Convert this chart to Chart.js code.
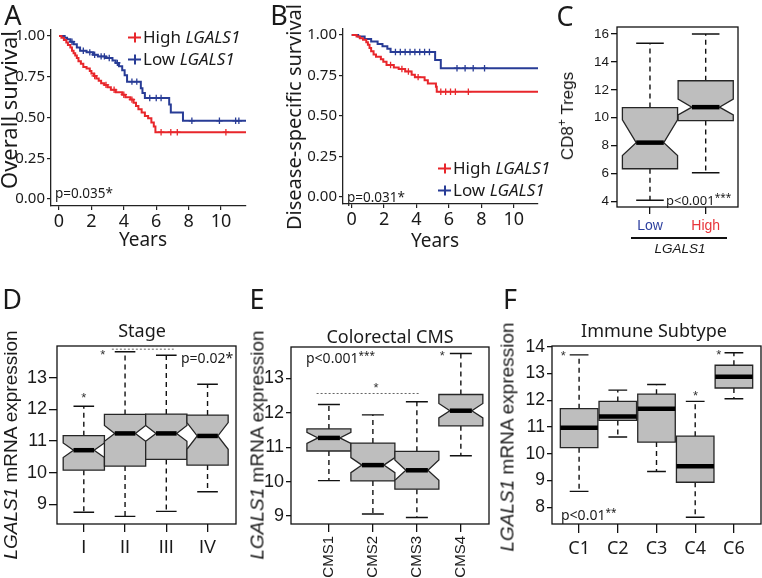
<!DOCTYPE html>
<html>
<head>
<meta charset="utf-8">
<script src="https://cdn.jsdelivr.net/npm/chart.js@4.4.1/dist/chart.umd.min.js"></script>
<style>
  html, body { margin: 0; padding: 0; background: #fff; }
  #fig { position: relative; width: 762px; height: 578px; overflow: hidden; font-family: "Noto Sans", sans-serif; color: #1a1a1a; }
  #fig canvas { position: absolute; }
  .t { position: absolute; white-space: nowrap; line-height: 1; }
</style>
</head>
<body>
<div id="fig"></div>
<script>
// ---- A: overall survival (years, survival) ----
const osHighT = [0, 0.15, 0.3, 0.45, 0.55, 0.7, 0.8, 0.9, 1.0, 1.1, 1.2, 1.35, 1.5, 1.7, 1.9, 2.0, 2.15, 2.3, 2.45, 2.6, 2.8, 3.0, 3.2, 3.5, 3.9, 4.1, 4.4, 4.6, 4.75, 4.9, 5.1, 5.3, 5.5, 5.7, 5.85, 5.95, 11.6];
const osHighS = [1, 0.99, 0.975, 0.96, 0.945, 0.93, 0.91, 0.895, 0.88, 0.865, 0.845, 0.83, 0.81, 0.8, 0.785, 0.77, 0.755, 0.74, 0.725, 0.71, 0.7, 0.685, 0.67, 0.655, 0.64, 0.625, 0.61, 0.59, 0.57, 0.55, 0.53, 0.51, 0.495, 0.47, 0.445, 0.41, 0.41];
const osLowT = [0, 0.35, 0.5, 0.7, 0.9, 1.1, 1.3, 1.7, 2.1, 2.4, 2.9, 3.3, 3.5, 3.7, 3.9, 4.05, 4.2, 5.05, 5.15, 5.3, 6.8, 6.9, 7.65, 11.6];
const osLowS = [1, 0.99, 0.98, 0.965, 0.95, 0.93, 0.91, 0.9, 0.885, 0.875, 0.865, 0.85, 0.835, 0.815, 0.79, 0.76, 0.72, 0.68, 0.65, 0.62, 0.58, 0.53, 0.48, 0.48];
const osHighCensT = [2.2, 2.9, 3.4, 4.0, 4.5, 6.3, 6.9, 7.3, 10.3];
const osHighCensS = [0.755, 0.7, 0.67, 0.64, 0.61, 0.41, 0.41, 0.41, 0.41];
const osLowCensT = [0.8, 1.5, 1.9, 2.2, 2.6, 2.8, 3.1, 3.6, 4.5, 4.8, 5.6, 6.0, 6.3, 8.2, 9.9, 10.9, 11.1];
const osLowCensS = [0.965, 0.91, 0.9, 0.885, 0.875, 0.875, 0.865, 0.835, 0.72, 0.72, 0.62, 0.62, 0.62, 0.48, 0.48, 0.48, 0.48];

// ---- B: disease-specific survival ----
const dssHighT = [0, 0.3, 0.5, 0.7, 0.9, 1.0, 1.1, 1.2, 1.35, 1.5, 1.8, 1.95, 2.15, 2.6, 2.9, 3.3, 3.7, 3.9, 4.5, 4.7, 5.2, 5.25, 11.6];
const dssHighS = [1, 0.99, 0.98, 0.97, 0.955, 0.94, 0.92, 0.9, 0.88, 0.865, 0.85, 0.835, 0.815, 0.8, 0.79, 0.775, 0.755, 0.74, 0.72, 0.7, 0.68, 0.65, 0.65];
const dssLowT = [0, 0.4, 0.8, 1.2, 1.6, 1.9, 2.2, 2.4, 5.15, 5.5, 11.6];
const dssLowS = [1, 0.99, 0.975, 0.96, 0.945, 0.93, 0.915, 0.895, 0.845, 0.795, 0.795];
const dssHighCensT = [2.4, 3.1, 3.5, 4.1, 5.5, 5.8, 6.1, 6.4, 7.2];
const dssHighCensS = [0.815, 0.79, 0.775, 0.74, 0.65, 0.65, 0.65, 0.65, 0.65];
const dssLowCensT = [2.7, 3.0, 3.3, 3.6, 3.9, 4.2, 4.5, 4.8, 6.5, 7.0, 7.5, 8.2];
const dssLowCensS = [0.895, 0.895, 0.895, 0.895, 0.895, 0.895, 0.895, 0.895, 0.795, 0.795, 0.795, 0.795];

const kmXTicks = [0, 2, 4, 6, 8, 10];
const kmYTicks = [0, 0.25, 0.5, 0.75, 1];

// ---- C: CD8+ Tregs by LGALS1 ----
const tregLabels = ['Low', 'High'];
const tregLo = [4.09, 6.06];
const tregQ1 = [6.35, 9.8];
const tregMed = [8.22, 10.76];
const tregQ3 = [10.73, 12.65];
const tregHi = [15.34, 16.0];
const tregNotchLo = [7.3, 10.2];
const tregNotchHi = [9.85, 11.34];
const tregYTicks = [4, 6, 8, 10, 12, 14, 16];

// ---- D: stage ----
const stageLabels = ['I', 'II', 'III', 'IV'];
const stageLo = [8.75, 8.62, 8.78, 9.4];
const stageQ1 = [10.08, 10.21, 10.42, 10.24];
const stageMed = [10.71, 11.24, 11.24, 11.16];
const stageQ3 = [11.17, 11.84, 11.85, 11.82];
const stageHi = [12.1, 13.82, 13.71, 12.79];
const stageNotchLo = [10.48, 10.99, 10.99, 10.74];
const stageNotchHi = [10.94, 11.49, 11.49, 11.58];
const stageYTicks = [9, 10, 11, 12, 13];
const stageStarX = [1, 1.46], stageStarY = [12.45, 13.8];
const stageDotX = [1.68, 3.18], stageDotY = 13.9;

// ---- E: colorectal CMS ----
const cmsLabels = ['CMS1', 'CMS2', 'CMS3', 'CMS4'];
const cmsLo = [10.03, 9.06, 8.96, 10.75];
const cmsQ1 = [10.89, 10.02, 9.78, 11.62];
const cmsMed = [11.27, 10.48, 10.33, 12.06];
const cmsQ3 = [11.53, 11.12, 10.88, 12.53];
const cmsHi = [12.24, 11.94, 12.32, 13.72];
const cmsNotchLo = [11.11, 10.26, 10.04, 11.85];
const cmsNotchHi = [11.43, 10.7, 10.63, 12.27];
const cmsYTicks = [9, 10, 11, 12, 13];
const cmsStarX = [2.07, 3.58], cmsStarY = [12.8, 13.72];
const cmsDotX = [0.72, 3.06], cmsDotY = 12.56;

// ---- F: immune subtype ----
const immLabels = ['C1', 'C2', 'C3', 'C4', 'C6'];
const immLo = [8.6, 10.63, 9.34, 7.63, 12.06];
const immQ1 = [10.23, 11.25, 10.44, 8.94, 12.46];
const immMed = [10.98, 11.4, 11.69, 9.54, 12.88];
const immQ3 = [11.69, 11.96, 12.23, 10.66, 13.31];
const immHi = [13.7, 12.38, 12.59, 11.96, 13.78];
const immYTicks = [8, 9, 10, 11, 12, 13, 14];
const immStarX = [0.59, 4.01, 4.61], immStarY = [13.76, 12.27, 13.78];

const RED = '#e8262b';
const BLUE = '#283c96';
const ARIAL = '"Liberation Sans", Arial, sans-serif';

Chart.defaults.font.family = '"Noto Sans", sans-serif';
Chart.defaults.color = '#1a1a1a';
Chart.defaults.animation = false;

const fig = document.getElementById('fig');

function txt(html, x, y, css, opts = {}) {
  const d = document.createElement('div');
  d.className = 't';
  d.innerHTML = html;
  d.style.cssText += css;
  d.style.left = x + 'px';
  d.style.top = y + 'px';
  const tx = opts.anchor === 'l' ? '0' : '-50%';
  d.style.transform = `translate(${tx},-50%)` + (opts.rot ? ` rotate(${opts.rot}deg)` : '');
  fig.appendChild(d);
}

function key(color) {
  return `<span style="display:inline-block;position:relative;width:13px;height:2px;background:${color};vertical-align:middle;margin-right:2px">` +
    `<span style="position:absolute;left:5.5px;top:-4px;width:2px;height:10px;background:${color}"></span></span>`;
}

function pairs(xs, ys) {
  return xs.map((x, i) => ({ x, y: ys[i] }));
}

// place a canvas so that its chart area lands on `area` (page pixels)
function makeCanvas(box) {
  const cv = document.createElement('canvas');
  cv.width = box.w; cv.height = box.h;
  cv.style.left = box.left + 'px'; cv.style.top = box.top + 'px';
  cv.style.width = box.w + 'px'; cv.style.height = box.h + 'px';
  fig.appendChild(cv);
  return cv;
}

function fixSize(size, isX) {
  return (s) => {
    if (isX) s.height = size; else s.width = size;
    s.paddingLeft = s.paddingRight = s.paddingTop = s.paddingBottom = 0;
  };
}

function setTicks(values) {
  return (s) => { s.ticks = values.map(v => ({ value: v })); };
}

function layoutFor(box, area) {
  return {
    autoPadding: false,
    padding: { top: area.t - box.top, right: box.left + box.w - area.r, left: 0, bottom: 0 }
  };
}

// ---------- Kaplan-Meier panels ----------
function kmChart(box, area, xr, yr, curves, tickFont) {
  const cv = makeCanvas(box);
  const datasets = [];
  curves.forEach(c => {
    datasets.push({
      data: pairs(c.t, c.s), borderColor: c.color, borderWidth: 2, stepped: true,
      pointRadius: 0, fill: false
    });
    datasets.push({
      data: pairs(c.ct, c.cs), showLine: false, pointStyle: 'cross', pointRadius: 3.2,
      pointBorderWidth: 1.3, borderColor: c.color, pointBorderColor: c.color
    });
  });
  return new Chart(cv, {
    type: 'line',
    data: { datasets },
    options: {
      responsive: false, devicePixelRatio: 1,
      layout: layoutFor(box, area),
      plugins: { legend: { display: false }, tooltip: { enabled: false } },
      scales: {
        x: {
          type: 'linear', min: xr[0], max: xr[1],
          afterBuildTicks: setTicks(kmXTicks),
          afterFit: fixSize(box.top + box.h - area.b, true),
          grid: { drawOnChartArea: false, tickLength: 4, color: '#222', lineWidth: 1.2 },
          border: { display: true, color: '#222', width: 1.3 },
          ticks: { font: { size: tickFont.x }, padding: 1, autoSkip: false, maxRotation: 0, color: '#1a1a1a' }
        },
        y: {
          type: 'linear', min: yr[0], max: yr[1],
          afterBuildTicks: setTicks(kmYTicks),
          afterFit: fixSize(area.l - box.left, false),
          grid: { drawOnChartArea: false, tickLength: 4, color: '#222', lineWidth: 1.2 },
          border: { display: true, color: '#222', width: 1.3 },
          ticks: { font: { size: tickFont.y }, padding: 2, callback: v => v.toFixed(2), color: '#1a1a1a' }
        }
      }
    }
  });
}

// ---------- box plot panels ----------
const framePlugin = {
  id: 'frame',
  afterDraw(chart) {
    const a = chart.chartArea, ctx = chart.ctx;
    ctx.save();
    ctx.strokeStyle = '#111';
    ctx.lineWidth = 1.3;
    ctx.strokeRect(a.left, a.top, a.right - a.left, a.bottom - a.top);
    ctx.restore();
  }
};

function boxPlugin(st) {
  return {
    id: 'boxes',
    beforeDatasetsDraw(chart) {
      const { ctx, chartArea: a, scales: { x, y } } = chart;
      const Y = v => y.getPixelForValue(v);
      ctx.save();
      ctx.beginPath();
      ctx.rect(a.left, a.top, a.right - a.left, a.bottom - a.top);
      ctx.clip();
      st.med.forEach((m, i) => {
        const pos = i + 1;
        const cx = x.getPixelForValue(pos);
        const hw = x.getPixelForValue(pos + st.half) - cx;
        const cw = x.getPixelForValue(pos + st.half / 2) - cx;
        // whiskers
        ctx.strokeStyle = '#111';
        ctx.lineWidth = 1.4;
        ctx.setLineDash([5, 4]);
        ctx.beginPath();
        ctx.moveTo(cx, Y(st.q3[i])); ctx.lineTo(cx, Y(st.hi[i]));
        ctx.moveTo(cx, Y(st.q1[i])); ctx.lineTo(cx, Y(st.lo[i]));
        ctx.stroke();
        ctx.setLineDash([]);
        ctx.beginPath();
        ctx.moveTo(cx - cw, Y(st.hi[i])); ctx.lineTo(cx + cw, Y(st.hi[i]));
        ctx.moveTo(cx - cw, Y(st.lo[i])); ctx.lineTo(cx + cw, Y(st.lo[i]));
        ctx.stroke();
        // box (notched when notch limits are given)
        const nf = st.nlo ? 0.5 : 1;
        ctx.beginPath();
        if (st.nlo) {
          ctx.moveTo(cx - hw, Y(st.q1[i]));
          ctx.lineTo(cx - hw, Y(st.nlo[i]));
          ctx.lineTo(cx - hw * nf, Y(m));
          ctx.lineTo(cx - hw, Y(st.nhi[i]));
          ctx.lineTo(cx - hw, Y(st.q3[i]));
          ctx.lineTo(cx + hw, Y(st.q3[i]));
          ctx.lineTo(cx + hw, Y(st.nhi[i]));
          ctx.lineTo(cx + hw * nf, Y(m));
          ctx.lineTo(cx + hw, Y(st.nlo[i]));
          ctx.lineTo(cx + hw, Y(st.q1[i]));
          ctx.closePath();
        } else {
          ctx.rect(cx - hw, Y(st.q3[i]), 2 * hw, Y(st.q1[i]) - Y(st.q3[i]));
        }
        ctx.fillStyle = '#bebebe';
        ctx.fill();
        ctx.lineWidth = 1.3;
        ctx.strokeStyle = '#262626';
        ctx.stroke();
        // median
        ctx.lineWidth = 4.5;
        ctx.strokeStyle = '#000';
        ctx.beginPath();
        ctx.moveTo(cx - hw * nf, Y(m)); ctx.lineTo(cx + hw * nf, Y(m));
        ctx.stroke();
      });
      ctx.restore();
    }
  };
}

function notesPlugin(n) {
  return {
    id: 'notes',
    afterDraw(chart) {
      const { ctx, scales: { x, y } } = chart;
      ctx.save();
      if (n.dotX) {
        ctx.strokeStyle = '#666';
        ctx.lineWidth = 1;
        ctx.setLineDash([2, 2]);
        ctx.beginPath();
        ctx.moveTo(x.getPixelForValue(n.dotX[0]), y.getPixelForValue(n.dotY));
        ctx.lineTo(x.getPixelForValue(n.dotX[1]), y.getPixelForValue(n.dotY));
        ctx.stroke();
        ctx.setLineDash([]);
      }
      ctx.fillStyle = '#333';
      ctx.font = '13px "Liberation Sans", Arial, sans-serif';
      ctx.textAlign = 'center';
      ctx.textBaseline = 'middle';
      (n.starX || []).forEach((sx, i) => {
        ctx.fillText('*', x.getPixelForValue(sx), y.getPixelForValue(n.starY[i]) + 3);
      });
      ctx.restore();
    }
  };
}

function boxChart(box, area, xr, yr, st, o) {
  const cv = makeCanvas(box);
  return new Chart(cv, {
    type: 'scatter',
    data: { datasets: [{ data: pairs(st.med.map((_, i) => i + 1), st.med), pointRadius: 0 }] },
    options: {
      responsive: false, devicePixelRatio: 1,
      layout: layoutFor(box, area),
      plugins: { legend: { display: false }, tooltip: { enabled: false } },
      scales: {
        x: {
          type: 'linear', min: xr[0], max: xr[1],
          afterBuildTicks: setTicks(st.labels.map((_, i) => i + 1)),
          afterFit: fixSize(box.top + box.h - area.b, true),
          grid: { drawOnChartArea: false, tickLength: o.xTick, color: '#111', lineWidth: 1.3 },
          border: { display: false },
          ticks: {
            autoSkip: false, padding: o.xPad, minRotation: o.rot || 0, maxRotation: o.rot || 0,
            font: o.xFont, color: o.xColor || '#1a1a1a',
            callback: v => st.labels[v - 1]
          }
        },
        y: {
          type: 'linear', min: yr[0], max: yr[1],
          afterBuildTicks: setTicks(o.yTicks),
          afterFit: fixSize(area.l - box.left, false),
          grid: { drawOnChartArea: false, tickLength: o.yTick, color: '#111', lineWidth: 1.3 },
          border: { display: false },
          ticks: { padding: 2, font: o.yFont, color: '#1a1a1a' }
        }
      }
    },
    plugins: [boxPlugin(st), framePlugin, notesPlugin(o.notes || {})]
  });
}

// ---------- A ----------
kmChart({ left: 0, top: 0, w: 258, h: 262 }, { l: 51, t: 30, r: 246, b: 206 },
  [-0.494, 11.54], [-0.043, 1.037],
  [
    { t: osHighT, s: osHighS, ct: osHighCensT, cs: osHighCensS, color: RED },
    { t: osLowT, s: osLowS, ct: osLowCensT, cs: osLowCensS, color: BLUE }
  ], { x: 18, y: 15 });

// ---------- B ----------
kmChart({ left: 262, top: 0, w: 285, h: 262 }, { l: 343, t: 29, r: 538, b: 204 },
  [-0.537, 11.5], [-0.043, 1.037],
  [
    { t: dssHighT, s: dssHighS, ct: dssHighCensT, cs: dssHighCensS, color: RED },
    { t: dssLowT, s: dssLowS, ct: dssLowCensT, cs: dssLowCensS, color: BLUE }
  ], { x: 18, y: 15 });

// ---------- C ----------
boxChart({ left: 560, top: 0, w: 202, h: 262 }, { l: 617, t: 27, r: 738, b: 207 },
  [0.408, 2.58], [3.61, 16.5],
  { labels: tregLabels, lo: tregLo, q1: tregQ1, med: tregMed, q3: tregQ3, hi: tregHi, nlo: tregNotchLo, nhi: tregNotchHi, half: 0.495 },
  { yTicks: tregYTicks, xTick: 7, yTick: 6, xPad: 4, xFont: { family: ARIAL, size: 14 }, yFont: { family: ARIAL, size: 13.5 },
    xColor: c => (c.index === 0 ? '#2c3f9e' : '#e8343a') });

// ---------- D ----------
boxChart({ left: 0, top: 280, w: 250, h: 298 }, { l: 57, t: 346, r: 236, b: 524 },
  [0.35, 4.69], [8.38, 14.0],
  { labels: stageLabels, lo: stageLo, q1: stageQ1, med: stageMed, q3: stageQ3, hi: stageHi, nlo: stageNotchLo, nhi: stageNotchHi, half: 0.5 },
  { yTicks: stageYTicks, xTick: 8, yTick: 8, xPad: 5, xFont: { family: ARIAL, size: 18 }, yFont: { family: ARIAL, size: 18 },
    notes: { starX: stageStarX, starY: stageStarY, dotX: stageDotX, dotY: stageDotY } });

// ---------- E ----------
boxChart({ left: 250, top: 280, w: 250, h: 298 }, { l: 291, t: 347, r: 489, b: 524 },
  [0.138, 4.64], [8.77, 13.91],
  { labels: cmsLabels, lo: cmsLo, q1: cmsQ1, med: cmsMed, q3: cmsQ3, hi: cmsHi, nlo: cmsNotchLo, nhi: cmsNotchHi, half: 0.5 },
  { yTicks: cmsYTicks, xTick: 8, yTick: 5, xPad: 4, rot: 90, xFont: { family: ARIAL, size: 15 }, yFont: { family: ARIAL, size: 18 },
    notes: { starX: cmsStarX, starY: cmsStarY, dotX: cmsDotX, dotY: cmsDotY } });

// ---------- F ----------
boxChart({ left: 500, top: 280, w: 262, h: 298 }, { l: 552, t: 346, r: 761, b: 524 },
  [0.3, 5.7], [7.38, 14.03],
  { labels: immLabels, lo: immLo, q1: immQ1, med: immMed, q3: immQ3, hi: immHi, half: 0.485 },
  { yTicks: immYTicks, xTick: 9, yTick: 5, xPad: 5, xFont: { size: 18 }, yFont: { family: ARIAL, size: 17.5 },
    notes: { starX: immStarX, starY: immStarY } });

// ---------- text ----------
const big = 'font-size:27px;';
txt('A', 13, 14, big);
txt('B', 279, 14, big);
txt('C', 565, 15, big);
txt('D', 12, 298, big);
txt('E', 257, 298, big);
txt('F', 510, 298, big);

txt('Overall survival', 8, 110, 'font-size:22px;', { rot: -90 });
txt('Years', 143, 239, 'font-size:19px;');
txt(key(RED) + 'High <i>LGALS1</i>', 128, 36, 'font-size:17px;', { anchor: 'l' });
txt(key(BLUE) + 'Low <i>LGALS1</i>', 128, 58, 'font-size:17px;', { anchor: 'l' });
txt('p=0.035*', 55, 194, 'font-size:13.5px;', { anchor: 'l' });

txt('Disease-specific survival', 294, 117, 'font-size:20px;', { rot: -90 });
txt('Years', 435, 240, 'font-size:19px;');
txt(key(RED) + 'High <i>LGALS1</i>', 438, 167, 'font-size:17px;', { anchor: 'l' });
txt(key(BLUE) + 'Low <i>LGALS1</i>', 438, 189, 'font-size:17px;', { anchor: 'l' });
txt('p=0.031*', 347, 198, 'font-size:13.5px;', { anchor: 'l' });

txt('CD8<sup style="font-size:12px;vertical-align:7px">+</sup> Tregs', 566, 116, `font-family:${ARIAL};font-size:17px;`, { rot: -90 });
txt('', 631, 238, 'width:96px;height:2px;background:#111;', { anchor: 'l' });
txt('<i>LGALS1</i>', 680, 249, `font-family:${ARIAL};font-size:13.5px;`);
txt('p&lt;0.001<span style="font-size:10px;vertical-align:4px">***</span>', 666, 199, 'font-size:13px;', { anchor: 'l' });

txt('Stage', 142, 330, 'font-size:18px;');
txt('<i>LGALS1</i> mRNA expression', 10, 445, `font-family:${ARIAL};font-size:19px;`, { rot: -90 });
txt('p=0.02*', 181, 358, 'font-size:14px;', { anchor: 'l' });

txt('Colorectal CMS', 390, 336, 'font-size:18px;');
txt('<i>LGALS1</i> mRNA expression', 257, 445, `font-family:${ARIAL};font-size:19px;`, { rot: -90 });
txt('p&lt;0.001<span style="font-size:10px;vertical-align:4px">***</span>', 306, 357, 'font-size:14px;', { anchor: 'l' });

txt('Immune Subtype', 654, 330, 'font-size:18px;');
txt('<i>LGALS1</i> mRNA expression', 507, 437, `font-family:${ARIAL};font-size:19px;`, { rot: -90 });
txt('p&lt;0.01<span style="font-size:10px;vertical-align:4px">**</span>', 561, 514, 'font-size:14px;', { anchor: 'l' });
</script>
</body>
</html>
